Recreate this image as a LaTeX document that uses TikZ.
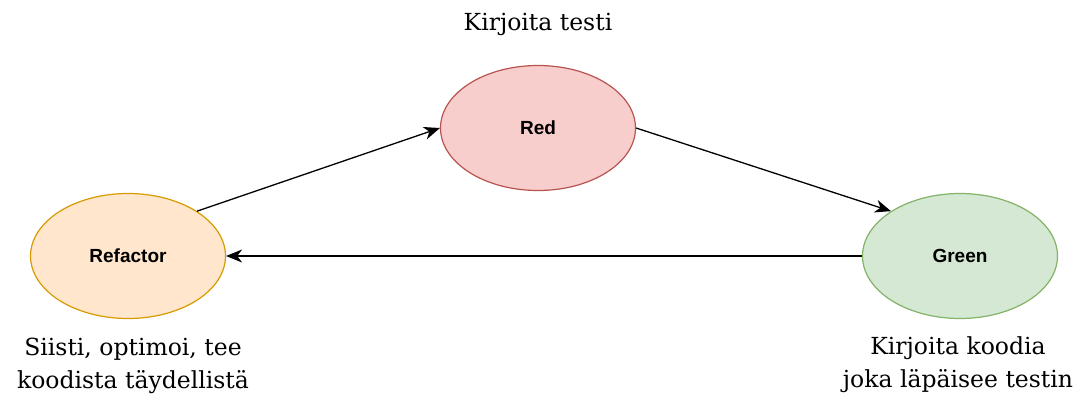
\documentclass[tikz,border=0pt]{standalone}
\usepackage{fontspec}
\setmainfont{DejaVu Serif}
\newfontfamily\labelfont{Liberation Sans}
\usepackage{tikz}
\usetikzlibrary{arrows.meta,shapes.geometric}

\definecolor{redfill}{HTML}{F8CECC}
\definecolor{redline}{HTML}{B85450}
\definecolor{orangefill}{HTML}{FFE6CC}
\definecolor{orangeline}{HTML}{D79B00}
\definecolor{greenfill}{HTML}{D5E8D4}
\definecolor{greenline}{HTML}{82B366}

\begin{document}
\begin{tikzpicture}[x=1pt,y=-1pt,
state/.style={ellipse, draw, line width=1.2pt, inner sep=0pt,
  minimum width=195pt, minimum height=125pt,
  font=\labelfont\bfseries\fontsize{19}{22}\selectfont},
note/.style={align=center, anchor=base, font=\fontsize{23.5}{33}\selectfont},
link/.style={-{Stealth[length=16pt,width=13pt,inset=5pt]}, line width=1.3pt}]
\useasboundingbox (0,0) rectangle (1080,394);
\node (red) at (538,128) [state, fill=redfill, draw=redline] {Red};
\node (green) at (960,256) [state, fill=greenfill, draw=greenline] {Green};
\node (refactor) at (128,256) [state, fill=orangefill, draw=orangeline] {Refactor};
\node (redtxt) at (538,30) [note] {Kirjoita testi};
% base of a two-line note is its last line
\node (greentxt) at (958,387) [note] {Kirjoita koodia\\joka läpäisee testin};
\node (refactortxt) at (133,388) [note] {Siisti, optimoi, tee\\koodista täydellistä};
\draw [link] (refactor.33)--(red.west);
\draw [link] (red.east)--(green.147);
\draw [link] (green.west)--(refactor.east);
\end{tikzpicture}
\end{document}
